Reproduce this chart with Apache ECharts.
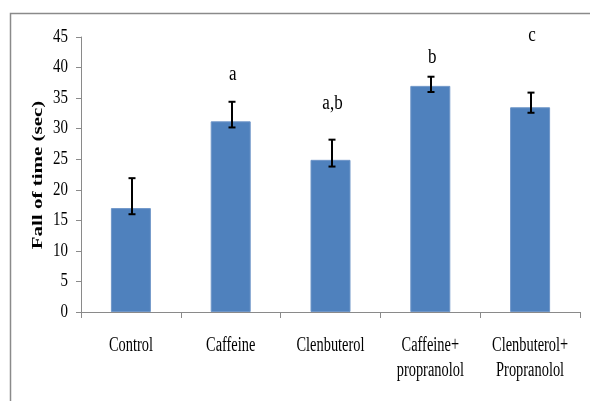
<!DOCTYPE html>
<html>
<head>
<meta charset="utf-8">
<script src="https://cdn.jsdelivr.net/npm/echarts@6/dist/echarts.min.js"></script>
<style>
  html, body { margin: 0; padding: 0; background: #fff; }
  #chart { width: 590px; height: 401px; }
</style>
</head>
<body>
<div id="chart"></div>
<script>
// Treatment groups and measured fall times (sec)
const groups = ['Control', 'Caffeine', 'Clenbuterol', 'Caffeine+\npropranolol', 'Clenbuterol+\nPropranolol'];
const meanValues = [17.0, 31.2, 24.9, 37.0, 33.5];
const errLow = [16.0, 30.2, 23.8, 36.0, 32.6];
const errHigh = [21.9, 34.4, 28.2, 38.5, 35.9];
// Significance letters and the value level they are written at
const sigLetters = ['', 'a', 'a,b', 'b', 'c'];
const sigLevel = [null, 38.8, 34.0, 41.6, 45.2];
// Value-axis tick labels
const yTickValues = [0, 5, 10, 15, 20, 25, 30, 35, 40, 45];
const yTitle = 'Fall of time (sec)';

const serif = '"Liberation Serif", "Times New Roman", serif';
// Narrow, tall serif lettering: glyphs are squeezed horizontally
const squeeze = 0.72;

const chart = echarts.init(document.getElementById('chart'), null, { renderer: 'canvas' });

const option = {
  animation: false,
  backgroundColor: '#ffffff',
  graphic: [
    {
      type: 'rect',
      shape: { x: 10.5, y: 13.5, width: 640, height: 440 },
      style: { fill: 'none', stroke: '#8a8a8a', lineWidth: 1.5 },
      silent: true
    },
    {
      type: 'text',
      x: 38, y: 175,
      rotation: Math.PI / 2,
      scaleY: squeeze,
      style: {
        text: yTitle, fill: '#000',
        font: 'bold 21px ' + serif,
        align: 'center', verticalAlign: 'middle'
      },
      silent: true
    }
  ],
  grid: { left: 81, right: 10, top: 37, bottom: 89 },
  xAxis: {
    type: 'category',
    data: groups,
    axisLine: { lineStyle: { color: '#8a8a8a', width: 1 } },
    axisTick: { show: true, length: 6, lineStyle: { color: '#8a8a8a' } },
    axisLabel: { show: false }
  },
  yAxis: {
    type: 'value',
    min: yTickValues[0],
    max: yTickValues[yTickValues.length - 1],
    interval: yTickValues[1] - yTickValues[0],
    axisLine: { show: true, lineStyle: { color: '#8a8a8a', width: 1 } },
    axisTick: { show: true, inside: false, length: 5, lineStyle: { color: '#8a8a8a' } },
    splitLine: { show: false },
    axisLabel: { show: false }
  },
  series: [
    {
      type: 'bar',
      data: meanValues,
      barWidth: 40,
      itemStyle: { color: '#4f81bd', borderColor: '#6f96c8', borderWidth: 1 },
      z: 2
    },
    {
      // error bars with caps
      type: 'custom',
      data: groups.map((g, i) => [i, errLow[i], errHigh[i]]),
      renderItem: function (params, api) {
        const x = api.value(0);
        const lo = api.coord([x, api.value(1)]);
        const hi = api.coord([x, api.value(2)]);
        const cx = Math.round(lo[0]) + 1;
        const cap = 3.5;
        const style = { stroke: '#000', lineWidth: 2 };
        return {
          type: 'group',
          children: [
            { type: 'line', shape: { x1: cx, y1: hi[1], x2: cx, y2: lo[1] }, style },
            { type: 'line', shape: { x1: cx - cap, y1: hi[1], x2: cx + cap, y2: hi[1] }, style },
            { type: 'line', shape: { x1: cx - cap, y1: lo[1], x2: cx + cap, y2: lo[1] }, style }
          ]
        };
      },
      z: 5
    },
    {
      // significance letters
      type: 'custom',
      data: groups.map((g, i) => [i, sigLevel[i] == null ? 0 : sigLevel[i]]),
      renderItem: function (params, api) {
        const i = params.dataIndex;
        if (!sigLetters[i]) return null;
        const p = api.coord([api.value(0), api.value(1)]);
        return {
          type: 'text',
          x: p[0] + 2, y: p[1],
          scaleX: 0.85,
          style: {
            text: sigLetters[i], fill: '#000',
            font: '20px ' + serif,
            align: 'center', verticalAlign: 'middle'
          }
        };
      },
      z: 6
    },
    {
      // category labels under the axis
      type: 'custom',
      data: groups.map((g, i) => [i, 0]),
      renderItem: function (params, api) {
        const i = params.dataIndex;
        const p = api.coord([api.value(0), 0]);
        return {
          type: 'text',
          x: p[0], y: p[1] + 21,
          scaleX: squeeze,
          style: {
            text: groups[i], fill: '#000',
            font: '20px ' + serif,
            lineHeight: 25,
            align: 'center', verticalAlign: 'top'
          }
        };
      },
      z: 6
    },
    {
      // value-axis tick labels
      type: 'custom',
      data: yTickValues.map(v => [0, v]),
      renderItem: function (params, api) {
        const v = api.value(1);
        const p = api.coord([0, v]);
        return {
          type: 'text',
          x: params.coordSys.x - 13, y: p[1],
          scaleX: 0.83,
          style: {
            text: String(yTickValues[params.dataIndex]), fill: '#000',
            font: '18px ' + serif,
            align: 'right', verticalAlign: 'middle'
          }
        };
      },
      z: 6
    }
  ]
};

chart.setOption(option);
</script>
</body>
</html>
